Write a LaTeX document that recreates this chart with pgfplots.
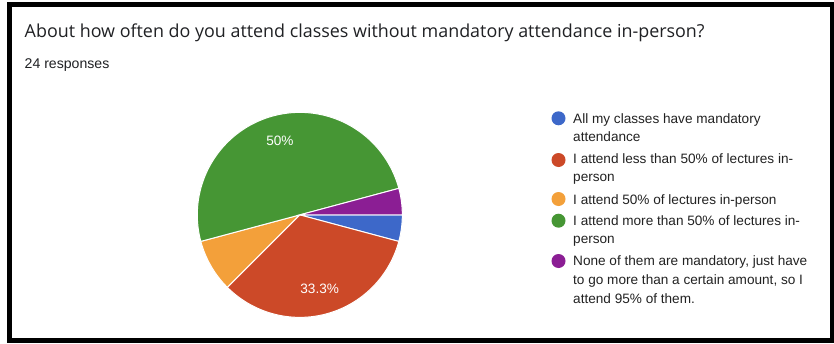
\documentclass[border=0pt]{standalone}
\usepackage{pgfplots}
\pgfplotsset{compat=1.18}
\usepackage{fontspec}
\setmainfont{Liberation Sans}
\newfontfamily\titlefont{Open Sans}
\definecolor{gblue}{RGB}{61,104,201}
\definecolor{gred}{RGB}{204,73,40}
\definecolor{gorange}{RGB}{243,160,58}
\definecolor{ggreen}{RGB}{70,150,52}
\definecolor{gpurple}{RGB}{139,30,148}
\definecolor{gtext}{RGB}{32,33,36}
\definecolor{ltext}{RGB}{34,34,34}
% response counts (24 responses)
\def\nA{1}  % All my classes have mandatory attendance
\def\nB{8}  % less than 50%
\def\nC{2}  % 50%
\def\nD{12} % more than 50%
\def\nE{1}  % None of them are mandatory
\def\nT{24}
\pgfmathsetmacro\aA{0}
\pgfmathsetmacro\aB{\aA-360*\nA/\nT}
\pgfmathsetmacro\aC{\aB-360*\nB/\nT}
\pgfmathsetmacro\aD{\aC-360*\nC/\nT}
\pgfmathsetmacro\aE{\aD-360*\nD/\nT}
\pgfmathsetmacro\aF{\aE-360*\nE/\nT}
\newcommand{\lfont}{\fontsize{13.6bp}{16bp}\selectfont}
\begin{document}
\begin{tikzpicture}[x=1bp,y=1bp]
\useasboundingbox (0,0) rectangle (834,343);
\fill[white] (0,0) rectangle (834,343);
\begin{scope}
\clip (0,0) rectangle (834,343);
\draw[line width=5bp] (9.5,338) rectangle (832,3);
\end{scope}
\node[anchor=base west, inner sep=0, text=gtext, font=\titlefont\fontsize{17.9bp}{20bp}\selectfont] at (24.5,305.3) {About how often do you attend classes without mandatory attendance in-person?};
\node[anchor=base west, inner sep=0, text=gtext, font=\fontsize{14.1bp}{16bp}\selectfont] at (24.5,274.7) {24 responses};
\begin{axis}[hide axis, scale only axis, width=205bp, height=205bp,
  xmin=-1, xmax=1, ymin=-1, ymax=1, at={(292.5,125)}, anchor=center, clip=false]
\addplot[fill=gblue, draw=white, line width=1bp, domain=\aB:\aA, samples=40] ({cos(x)},{sin(x)}) -- (axis cs:0,0) -- cycle;
\addplot[fill=gred, draw=white, line width=1bp, domain=\aC:\aB, samples=80] ({cos(x)},{sin(x)}) -- (axis cs:0,0) -- cycle;
\addplot[fill=gorange, draw=white, line width=1bp, domain=\aD:\aC, samples=40] ({cos(x)},{sin(x)}) -- (axis cs:0,0) -- cycle;
\addplot[fill=ggreen, draw=white, line width=1bp, domain=\aE:\aD, samples=120] ({cos(x)},{sin(x)}) -- (axis cs:0,0) -- cycle;
\addplot[fill=gpurple, draw=white, line width=1bp, domain=\aF:\aE, samples=40] ({cos(x)},{sin(x)}) -- (axis cs:0,0) -- cycle;
\node[text=white, font=\lfont] at (axis cs:{0.75*cos((\aD+\aE)/2)},{0.75*sin((\aD+\aE)/2)}) {50\%};
\node[text=white, font=\lfont] at (axis cs:{0.75*cos((\aB+\aC)/2)},{0.75*sin((\aB+\aC)/2)}) {33.3\%};
\end{axis}
% legend
\fill[gblue] (558.5,{343-118.3}) circle (7);
\fill[gred] (558.5,{343-160}) circle (7);
\fill[gorange] (558.5,{343-199}) circle (7);
\fill[ggreen] (558.5,{343-220.7}) circle (7);
\fill[gpurple] (558.5,{343-261}) circle (7);
\begin{scope}[every node/.style={anchor=base west, inner sep=0, text=ltext, font=\lfont}]
\node at (573,{343-123}) {All my classes have mandatory};
\node at (573,{343-141}) {attendance};
\node at (573,{343-163.5}) {I attend less than 50\% of lectures in-};
\node at (573,{343-181}) {person};
\node at (573,{343-204}) {I attend 50\% of lectures in-person};
\node at (573,{343-225.5}) {I attend more than 50\% of lectures in-};
\node at (573,{343-243}) {person};
\node at (573,{343-265.5}) {None of them are mandatory, just have};
\node at (573,{343-284.5}) {to go more than a certain amount, so I};
\node at (573,{343-303.5}) {attend 95\% of them.};
\end{scope}
\end{tikzpicture}
\end{document}
